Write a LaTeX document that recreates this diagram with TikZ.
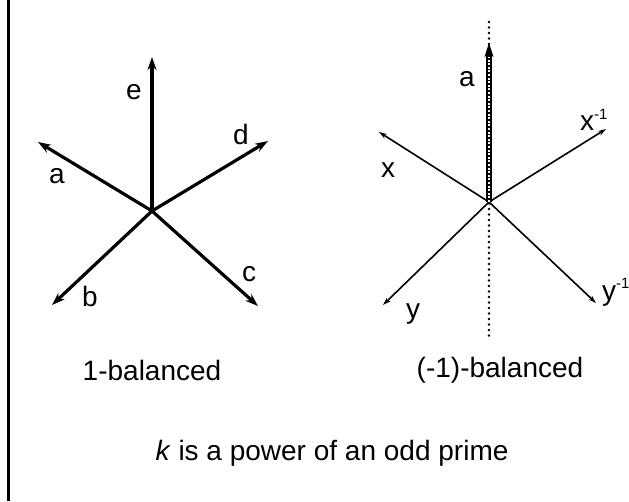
\documentclass[tikz,border=0pt]{standalone}
\usepackage{fontspec}
\setmainfont{Liberation Sans}
\usetikzlibrary{arrows.meta}

\begin{document}
\begin{tikzpicture}[x=1pt, y=-1pt,
  lbl/.style={font=\fontsize{28}{32}\selectfont, inner sep=0pt},
  heavyvec/.style={-{Stealth[length=13pt, width=9pt]}, line width=3.2pt},
  thinvec/.style={-{Stealth[length=8pt, width=5pt]}, line width=1.6pt},
  axisdots/.style={line width=2.6pt, line cap=round, dash pattern=on 0pt off 5.5pt}]
\useasboundingbox (0,0) rectangle (629,501);
\draw[line width=3pt] (8,0) -- (8,501);

% 1-balanced
\coordinate (o1) at (152,211);
\coordinate (ta) at (38,142);
\coordinate (tb) at (52,305);
\coordinate (tc) at (258,306);
\coordinate (td) at (268,141);
\coordinate (te) at (152,57);
\foreach \t in {ta,tb,tc,td,te}
  \draw[heavyvec] (o1) -- (\t);
\node[lbl] (la) at (57,176) {a};
\node[lbl] (lb) at (90,296) {b};
\node[lbl] (lc) at (249,274) {c};
\node[lbl] (ld) at (241,134) {d};
\node[lbl] (le) at (134,92) {e};

% (-1)-balanced
\coordinate (o2) at (489,202);
\coordinate (top) at (489,22);
\coordinate (bot) at (489,340);
\coordinate (tx) at (379,132);
\coordinate (txi) at (606,129);
\coordinate (ty) at (383,305);
\coordinate (tyi) at (596,303);
\coordinate (tz) at (489,43);
\draw[axisdots] (top) -- (bot);
\foreach \t in {tx,txi,ty,tyi}
  \draw[thinvec] (o2) -- (\t);
\draw[-{Stealth[length=14pt, width=9pt]}, line width=6pt] (o2) -- (tz);
\draw[white, line width=1.5pt, dash pattern=on 2pt off 1.6pt, shorten >=14pt] (o2) -- (tz);
\node[lbl] (lz) at (467,79) {a};
\node[lbl] (lx) at (388,170) {x};
\node[lbl] (ly) at (413,314) {y};
\node[lbl, anchor=base west] (lxi) at (580,130)
  {x\raisebox{11pt}{\fontsize{15}{15}\selectfont -1}};
\node[lbl, anchor=base west] (lyi) at (602,300)
  {y\raisebox{12pt}{\fontsize{15}{15}\selectfont -1}};

\node[lbl, anchor=base] (bal1) at (152,380) {1-balanced};
\node[lbl, anchor=base] (bal2) at (500,377) {(-1)-balanced};
\node[lbl, anchor=base] (note) at (332,460) {\textit{k} is a power of an odd prime};
\end{tikzpicture}
\end{document}
